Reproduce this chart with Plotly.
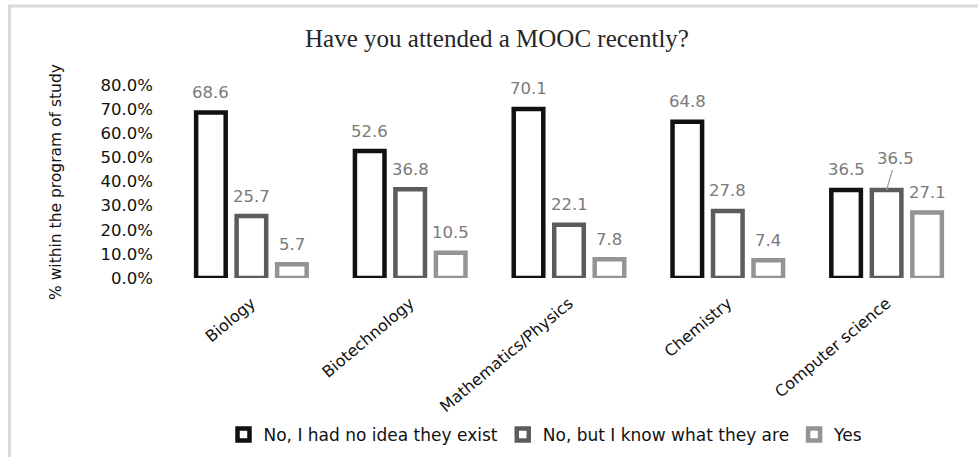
import plotly.graph_objects as go

# Survey results: share of students per program of study (percent)
programs = ["Biology", "Biotechnology", "Mathematics/Physics", "Chemistry", "Computer science"]
series_names = ["No, I had no idea they exist", "No, but I know what they are", "Yes"]
no_idea = [68.6, 52.6, 70.1, 64.8, 36.5]
know_them = [25.7, 36.8, 22.1, 27.8, 36.5]
attended = [5.7, 10.5, 7.8, 7.4, 27.1]
y_ticks = [0, 10, 20, 30, 40, 50, 60, 70, 80]

series_values = [no_idea, know_them, attended]
outline_colors = ["#111111", "#5c5c5c", "#949494"]
label_color = "#7a7a7a"
sans = "DejaVu Sans"

W, H = 978, 457
M_L, M_R, M_T, M_B = 172, 12, 85, 179
BARGAP = 0.235

fig = go.Figure()
for name, vals, col in zip(series_names, series_values, outline_colors):
    fig.add_trace(go.Bar(
        x=programs, y=vals, name=name,
        marker=dict(color="white", line=dict(color=col, width=4.5)),
        hoverinfo="x+y",
    ))

# value labels above each bar
slot = (1 - BARGAP) / 3
annotations = []
for k, vals in enumerate(series_values):
    for i, v in enumerate(vals):
        xpos = i + (k - 1) * slot
        if k == 1 and i == len(programs) - 1:
            # label moved up with a leader line to avoid overlapping the neighbour
            annotations.append(dict(
                x=xpos, y=v, xref="x", yref="y", text=f"{v:.1f}",
                showarrow=True, arrowhead=0, arrowwidth=1.3, arrowcolor="#a0a0a0",
                ax=9, ay=-31, standoff=0,
                font=dict(family=sans, size=16.5, color=label_color),
            ))
        else:
            annotations.append(dict(
                x=xpos, y=v, xref="x", yref="y", text=f"{v:.1f}",
                showarrow=False, yanchor="middle", yshift=20,
                font=dict(family=sans, size=16.5, color=label_color),
            ))

plot_w = W - M_L - M_R
plot_h = H - M_T - M_B


def px_x(p):
    return (p - M_L) / plot_w


def px_y(p):
    return (H - M_B - p) / plot_h


# y-axis title
annotations.append(dict(
    x=px_x(56), y=px_y(182), xref="paper", yref="paper",
    text="% within the program of study", textangle=-90,
    showarrow=False, xanchor="center", yanchor="middle",
    font=dict(family=sans, size=15.5, color="#111111"),
))

fig.update_layout(
    width=W, height=H,
    margin=dict(l=M_L, r=M_R, t=M_T, b=M_B, autoexpand=False),
    paper_bgcolor="white", plot_bgcolor="white",
    barmode="group", bargap=BARGAP, bargroupgap=0.27,
    title=dict(
        text="Have you attended a MOOC recently?",
        x=497 / W, xanchor="center", y=1 - 38 / H, yanchor="middle",
        font=dict(family="Liberation Serif", size=25, color="#262626"),
    ),
    xaxis=dict(
        showgrid=False, showline=False, zeroline=False, ticks="",
        tickangle=-40, ticklabelstandoff=12, automargin=False,
        tickfont=dict(family=sans, size=16, color="#111111"),
    ),
    yaxis=dict(
        range=[0, 80], tickvals=y_ticks,
        ticktext=[f"{t:.1f}%" for t in y_ticks],
        showgrid=False, showline=False, zeroline=False, ticks="",
        ticklabelstandoff=18, automargin=False,
        tickfont=dict(family=sans, size=16.5, color="#111111"),
    ),
    legend=dict(
        orientation="h", x=px_x(546), xanchor="center",
        y=px_y(435), yanchor="middle",
        font=dict(family=sans, size=17, color="#111111"),
        bgcolor="rgba(0,0,0,0)",
    ),
    annotations=annotations,
    shapes=[dict(
        type="rect", xref="paper", yref="paper",
        x0=px_x(9.5), y0=px_y(470), x1=px_x(990), y1=px_y(6),
        line=dict(color="#d9d9d9", width=3), fillcolor="rgba(0,0,0,0)",
        layer="below",
    )],
)

fig.write_html("out.html")
